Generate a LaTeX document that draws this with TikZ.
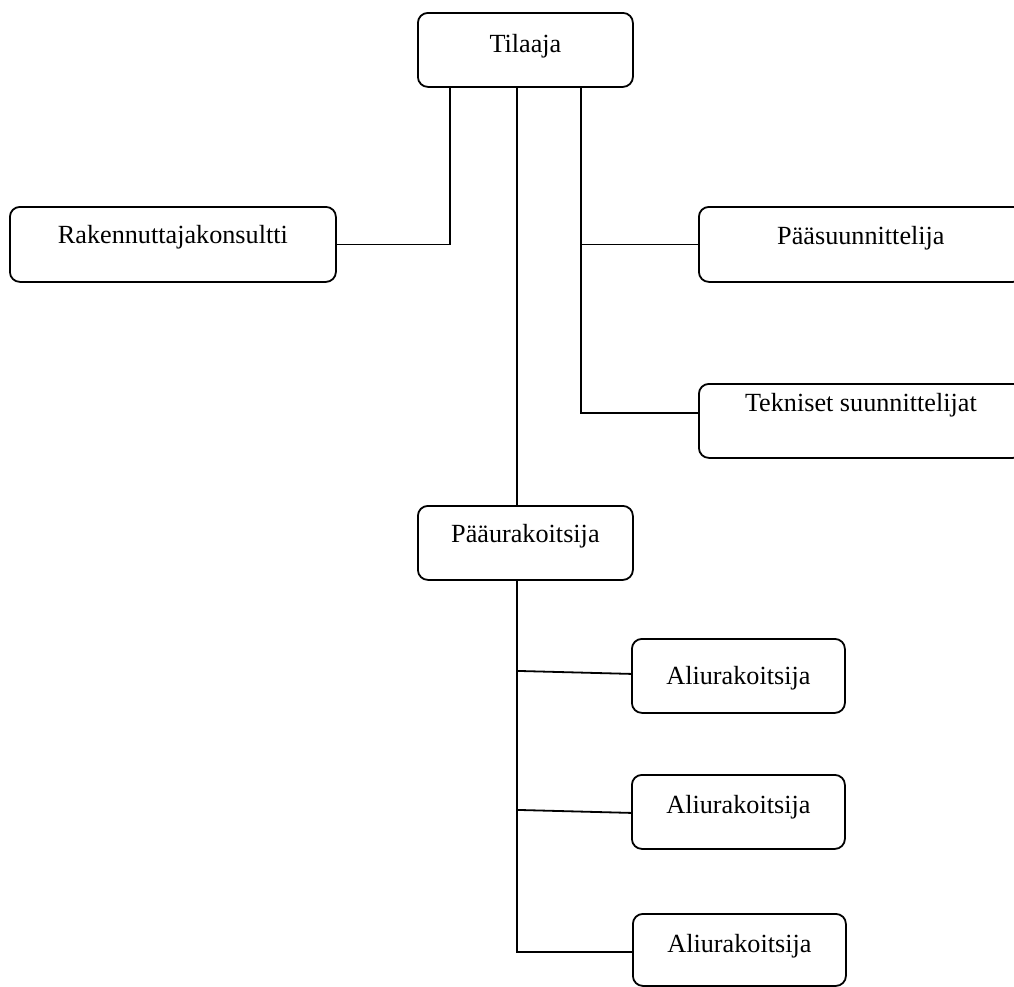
\documentclass[tikz,border=0pt]{standalone}
\usepackage{fontspec}
\setmainfont{Liberation Serif}
\begin{document}
\begin{tikzpicture}[x=1pt,y=-1pt,
  orgbox/.style={draw, line width=1.8pt, rounded corners=10pt, inner sep=0pt,
    anchor=north west, align=center, font=\fontsize{26.2}{30}\selectfont},
  link/.style={line width=1.8pt}]
\useasboundingbox (0,0) rectangle (1014,986);

% boxes
\node[orgbox, minimum width=215pt, text height=40pt, text depth=34pt] (tilaaja) at (417,12) {Tilaaja};
\node[orgbox, minimum width=326pt, text height=37pt, text depth=38pt] (rak) at (9,206) {Rakennuttajakonsultti};
\node[orgbox, minimum width=324pt, text height=38pt, text depth=37pt] (paasu) at (698,206) {Pääsuunnittelija};
\node[orgbox, minimum width=324pt, text height=28pt, text depth=46pt] (tek) at (698,383) {Tekniset suunnittelijat};
\node[orgbox, minimum width=215pt, text height=37pt, text depth=37pt] (paaur) at (417,505) {Pääurakoitsija};
\node[orgbox, minimum width=213pt, text height=46pt, text depth=28pt] (ali1) at (631,638) {Aliurakoitsija};
\node[orgbox, minimum width=213pt, text height=39pt, text depth=35pt] (ali2) at (631,774) {Aliurakoitsija};
\node[orgbox, minimum width=213pt, text height=39pt, text depth=33pt] (ali3) at (632,913) {Aliurakoitsija};

% vertical guide positions of the connector trunks
\coordinate (ja) at (450,0);
\coordinate (jb) at (517,0);
\coordinate (jc) at (581,0);

% connectors from Tilaaja
\draw[link] (tilaaja.south -| ja) |- (rak.east);
\draw[link] (tilaaja.south -| jb) -- (paaur.north -| jb);
\draw[link] (tilaaja.south -| jc) |- ([yshift=8pt]tek.west);
\draw[link] (paasu.west -| jc) -- (paasu.west);

% connectors from Pääurakoitsija
\draw[link] (paaur.south -| jb) |- ([yshift=-2pt]ali3.west);
\draw[link] ([yshift=5pt]ali1.west -| jb) -- ([yshift=2pt]ali1.west);
\draw[link] ([yshift=2pt]ali2.west -| jb) -- ([yshift=-1pt]ali2.west);
\end{tikzpicture}
\end{document}
